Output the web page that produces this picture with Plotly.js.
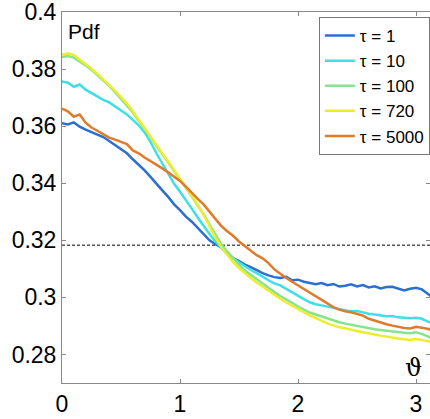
<!DOCTYPE html>
<html>
<head>
<meta charset="utf-8">
<script src="https://cdn.plot.ly/plotly-3.0.1.min.js"></script>
<style>html,body{margin:0;padding:0;background:#fff;}#chart{width:430px;height:419px;}</style>
</head>
<body>
<div id="chart"></div>
<script>
// theta grid (radians)
const theta = [0.00,0.05,0.10,0.15,0.20,0.25,0.30,0.35,0.40,0.45,0.50,0.55,0.60,0.65,0.70,0.75,0.80,0.85,0.90,0.95,
  1.00,1.05,1.10,1.15,1.20,1.25,1.30,1.35,1.40,1.45,1.50,1.55,1.60,1.65,1.70,1.75,1.80,1.85,1.90,1.95,
  2.00,2.05,2.10,2.15,2.20,2.25,2.30,2.35,2.40,2.45,2.50,2.55,2.60,2.65,2.70,2.75,2.80,2.85,2.90,2.95,
  3.00,3.05,3.10,3.14];

const pdfTau1 = [.3610,.3606,.3613,.3598,.3588,.3580,.3570,.3562,.3548,.3533,.3519,.3505,.3484,.3466,.3445,.3422,.3400,.3375,.3352,.3326,
  .3306,.3283,.3265,.3243,.3224,.3200,.3186,.3175,.3155,.3138,.3127,.3115,.3106,.3094,.3085,.3077,.3071,.3068,.3072,.3060,
  .3062,.3055,.3050,.3046,.3050,.3043,.3047,.3038,.3041,.3046,.3038,.3043,.3035,.3039,.3031,.3036,.3037,.3030,.3024,.3030,
  .3034,.3028,.3012,.3000];

const pdfTau10 = [.3757,.3752,.3738,.3746,.3728,.3716,.3706,.3692,.3683,.3668,.3656,.3641,.3622,.3603,.3578,.3545,.3505,.3470,.3430,.3398,
  .3370,.3342,.3311,.3280,.3249,.3222,.3196,.3172,.3152,.3136,.3122,.3108,.3096,.3085,.3071,.3060,.3049,.3042,.3030,.3017,
  .3006,.2994,.2983,.2976,.2972,.2968,.2962,.2958,.2956,.2951,.2952,.2947,.2943,.2940,.2938,.2934,.2935,.2930,.2929,.2927,
  .2929,.2925,.2915,.2910];

const pdfTau100 = [.3842,.3846,.3840,.3828,.3813,.3797,.3779,.3760,.3741,.3719,.3697,.3672,.3648,.3620,.3592,.3562,.3531,.3502,.3472,.3443,
  .3414,.3385,.3354,.3322,.3292,.3255,.3218,.3186,.3160,.3136,.3115,.3094,.3079,.3062,.3046,.3032,.3019,.3005,.2994,.2981,
  .2968,.2958,.2947,.2940,.2933,.2926,.2918,.2913,.2908,.2904,.2900,.2896,.2891,.2888,.2886,.2883,.2880,.2879,.2876,.2874,
  .2878,.2872,.2862,.2856];

const pdfTau720 = [.3850,.3855,.3849,.3834,.3818,.3801,.3783,.3764,.3745,.3724,.3702,.3679,.3652,.3624,.3594,.3564,.3534,.3505,.3476,.3447,
  .3417,.3388,.3357,.3324,.3290,.3250,.3210,.3176,.3148,.3123,.3103,.3084,.3068,.3052,.3037,.3023,.3009,.2995,.2982,.2970,
  .2958,.2948,.2937,.2927,.2918,.2909,.2902,.2895,.2892,.2886,.2882,.2878,.2873,.2870,.2866,.2862,.2858,.2856,.2853,.2851,
  .2854,.2850,.2847,.2844];

const pdfTau5000 = [.3661,.3652,.3633,.3641,.3612,.3595,.3584,.3573,.3560,.3553,.3546,.3537,.3515,.3505,.3490,.3478,.3465,.3452,.3438,.3424,
  .3408,.3388,.3365,.3345,.3326,.3300,.3275,.3250,.3232,.3216,.3196,.3180,.3163,.3148,.3137,.3120,.3098,.3082,.3068,.3055,
  .3042,.3030,.3015,.3002,.2990,.2978,.2966,.2957,.2951,.2948,.2942,.2936,.2925,.2918,.2912,.2906,.2901,.2896,.2893,.2891,
  .2897,.2894,.2888,.2886];

const seriesNames = ['τ = 1','τ = 10','τ = 100','τ = 720','τ = 5000'];
const seriesColors = ['#2b6fd0','#3fdfe8','#86e38e','#eded2a','#e07b2c'];
const uniformLevel = 0.3183;   // 1/pi reference level
const refX = [0, 3.14];

const yTickVals = [0.28,0.30,0.32,0.34,0.36,0.38,0.40];
const yTickText = ['0.28','0.3','0.32','0.34','0.36','0.38','0.4'];
const xTickVals = [0,1,2,3];
const xTickText = ['0','1','2','3'];

const allSeries = [pdfTau1,pdfTau10,pdfTau100,pdfTau720,pdfTau5000];
const traces = [{
  x: refX, y: [uniformLevel, uniformLevel], mode:'lines', showlegend:false,
  line:{color:'#000', width:1, dash:'3px,2px'}, hoverinfo:'skip'
}];
allSeries.forEach((s,i)=>{
  traces.push({x: theta, y: s, mode:'lines', name: seriesNames[i],
    line:{color: seriesColors[i], width:2.5}});
});

const axisFont = {family:'Liberation Sans, Arial, sans-serif', size:23, color:'#000'};
const layout = {
  width:430, height:419,
  margin:{l:62, r:0, t:12, b:36, pad:0},
  paper_bgcolor:'#fff', plot_bgcolor:'#fff',
  showlegend:true,
  xaxis:{range:[0,3.1186], tickvals:xTickVals, ticktext:xTickText, ticks:'inside', ticklen:4,
    tickcolor:'#888', showline:true, linecolor:'#888', linewidth:1, mirror:'ticks',
    showgrid:false, zeroline:false, tickfont:axisFont, ticklabeloverflow:'allow'},
  yaxis:{range:[0.27,0.40], tickvals:yTickVals, ticktext:yTickText, ticks:'inside', ticklen:4,
    tickcolor:'#888', showline:true, linecolor:'#888', linewidth:1, mirror:'ticks',
    showgrid:false, zeroline:false, tickfont:axisFont, ticklabeloverflow:'allow'},
  legend:{x:0.698, y:0.9865, xanchor:'left', yanchor:'top', bgcolor:'#fff',
    bordercolor:'#777', borderwidth:1,
    font:{family:'Liberation Sans, Arial, sans-serif', size:17, color:'#000'}},
  annotations:[
    {xref:'paper', yref:'paper', x:0, y:1, xanchor:'left', yanchor:'top', xshift:4, yshift:-6,
     text:'Pdf', showarrow:false, font:{family:'Liberation Sans, Arial, sans-serif', size:21, color:'#000'}},
    {xref:'x', yref:'y', x:2.975, y:0.2753, xanchor:'center', yanchor:'middle',
     text:'ϑ', showarrow:false, font:{family:'DejaVu Serif, serif', size:24, color:'#000'}}
  ]
};
Plotly.newPlot('chart', traces, layout, {displayModeBar:false, staticPlot:true});
</script>
</body>
</html>
